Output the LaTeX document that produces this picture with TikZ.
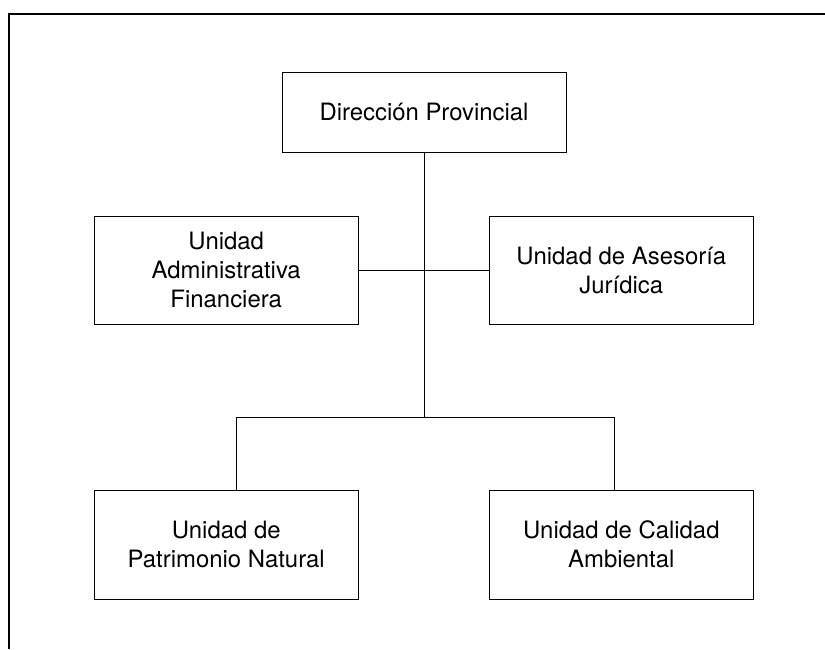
\documentclass[tikz,border=0pt]{standalone}
\usepackage{fontspec}
\setmainfont{TeX Gyre Heros}
\usetikzlibrary{positioning}

\begin{document}
\begin{tikzpicture}[
  x=1pt, y=-1pt,
  unit/.style={draw, line width=1pt, align=center, inner sep=0pt,
    font=\fontsize{23.9}{29}\selectfont},
  unitwide/.style={unit, minimum width=264pt, minimum height=108pt},
  unitlow/.style={unit, minimum width=264pt, minimum height=109pt},
  link/.style={draw, line width=1pt},
]
\useasboundingbox (0,0) rectangle (825,649);

% Frame (top and left only)
\draw[line width=2pt] (825,14) -- (8.5,14) -- (8.5,649);

% Head
\node[unit, minimum width=284pt, minimum height=80.5pt] (dir) at (424,112.3)
  {Dirección Provincial};

% Staff units
\node[unitwide] (adm) at (226.2,270) {Unidad\\Administrativa\\Financiera};
\node[unitwide] (jur) at (621.3,270) {Unidad de Asesoría\\Jurídica};

% Line units
\node[unitlow] (pat) at (226.2,544.5) {Unidad de\\Patrimonio Natural};
\node[unitlow] (cal) at (621.3,544.5) {Unidad de Calidad\\Ambiental};

% Bus
\coordinate (bus)  at (424,417.7);
\coordinate (busl) at (236.7,417.7);
\coordinate (busr) at (614,417.7);

% Connectors
\draw[link] (dir.south) -- (bus);
\draw[link] (adm.east) -- (jur.west);
\draw[link] (busl |- pat.north) -- (busl) -- (busr) -- (busr |- cal.north);
\end{tikzpicture}
\end{document}
